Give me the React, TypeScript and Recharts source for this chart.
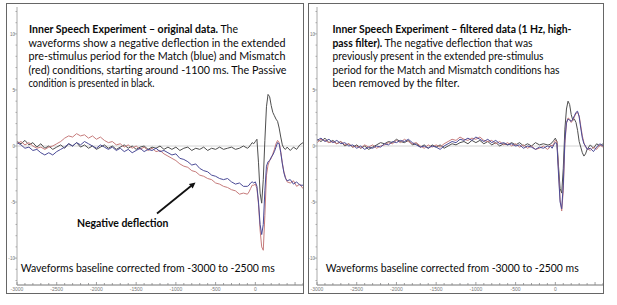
import { LineChart, Line, XAxis, YAxis, ReferenceLine } from "recharts";

// sample times (ms): 50 ms steps before stimulus, finer around the response
const times = [
  -3000, -2950, -2900, -2850, -2800, -2750, -2700, -2650, -2600, -2550,
  -2500, -2450, -2400, -2350, -2300, -2250, -2200, -2150, -2100, -2050,
  -2000, -1950, -1900, -1850, -1800, -1750, -1700, -1650, -1600, -1550,
  -1500, -1450, -1400, -1350, -1300, -1250, -1200, -1150, -1100, -1050,
  -1000, -950, -900, -850, -800, -750, -700, -650, -600, -550,
  -500, -450, -400, -350, -300, -250, -200, -150, -100,
  -80, -60, -40, -20, 0, 20, 40, 60, 80, 100,
  120, 140, 160, 180, 200, 220, 240, 260, 280, 300,
  320, 340, 360, 380, 400, 440, 480, 520, 560, 600,
];

// original data (µV)
const origMatch = [
  0.3, 0.1, -0.2, -0.1, -0.4, -0.3, -0.6, -0.8, -0.6, -0.8,
  -0.5, -0.3, -0.1, 0.2, 0.0, 0.3, 0.1, 0.4, 0.2, 0.0,
  -0.2, 0.1, -0.1, -0.3, -0.1, -0.4, -0.2, -0.5, -0.3, -0.6,
  -0.4, -0.2, -0.5, -0.3, -0.4, -0.2, -0.5, -0.4, -0.6, -0.8,
  -0.7, -1.1, -1.2, -1.4, -1.7, -1.6, -2.0, -2.2, -2.3, -2.6,
  -2.7, -2.9, -3.0, -2.9, -3.2, -3.4, -3.3, -3.6, -3.6,
  -3.5, -3.3, -3.2, -3.3, -3.2, -3.6, -5.0, -7.0, -7.9, -7.0,
  -4.0, -1.8, -1.4, -1.3, -1.0, -0.8, -0.5, -0.1, 0.3, 0.2,
  -0.6, -1.6, -2.4, -2.9, -3.1, -3.0, -3.4, -3.2, -3.5, -3.5,
];
const origMismatch = [
  0.2, 0.4, 0.1, 0.3, 0.0, -0.2, -0.1, -0.3, -0.1, 0.0,
  0.2, 0.4, 0.7, 0.9, 0.8, 1.1, 0.9, 1.0, 0.7, 0.9,
  0.6, 0.8, 0.5, 0.3, 0.4, 0.1, 0.2, -0.1, 0.1, -0.2,
  0.0, -0.3, -0.1, -0.4, -0.2, -0.5, -0.4, -0.7, -0.9, -1.1,
  -1.3, -1.6, -1.8, -1.9, -2.2, -2.3, -2.6, -2.7, -2.9, -3.0,
  -3.3, -3.4, -3.6, -3.7, -3.9, -4.0, -4.3, -4.2, -4.3,
  -4.1, -3.8, -3.5, -3.5, -3.4, -3.8, -5.2, -7.5, -9.0, -9.3,
  -6.2, -2.6, -1.7, -1.3, -1.1, -0.7, -0.3, 0.2, 0.5, 0.3,
  -0.5, -1.5, -2.3, -2.8, -3.2, -3.3, -3.1, -3.6, -3.4, -3.8,
];
const origPassive = [
  0.4, 0.2, 0.5, 0.1, 0.3, -0.1, 0.2, -0.2, 0.0, -0.3,
  -0.1, 0.1, -0.2, 0.2, 0.0, 0.3, -0.1, 0.1, -0.2, 0.0,
  -0.3, -0.1, 0.1, -0.2, 0.0, -0.3, -0.1, 0.1, -0.2, 0.0,
  -0.3, -0.1, 0.0, -0.3, -0.1, -0.2, 0.0, -0.3, -0.1, -0.3,
  -0.1, -0.4, -0.2, -0.1, -0.4, -0.2, -0.3, -0.1, -0.4, -0.2,
  -0.3, -0.1, -0.3, -0.2, -0.1, -0.3, -0.2, 0.0, -0.2,
  -0.1, 0.1, 0.3, 0.2, 0.4, 0.6, -1.5, -4.2, -5.1, -3.0,
  0.5, 3.5, 4.6, 4.4, 3.6, 3.0, 2.7, 2.4, 2.2, 1.6,
  0.8, 0.1, -0.2, -0.3, -0.1, -0.4, -0.1, -0.3, 0.1, 0.3,
];

// filtered data (1 Hz high-pass)
const filtMatch = [
  0.5, 0.7, 0.4, 0.6, 0.3, 0.5, 0.2, 0.3, 0.0, 0.1,
  -0.2, 0.0, -0.3, -0.1, -0.2, 0.0, -0.1, 0.2, 0.1, 0.4,
  0.3, 0.5, 0.4, 0.6, 0.3, 0.1, -0.1, 0.0, -0.2, 0.0,
  -0.1, -0.3, 0.0, 0.2, 0.4, 0.3, 0.6, 0.5, 0.7, 0.5,
  0.8, 0.6, 0.4, 0.6, 0.3, 0.5, 0.2, 0.3, 0.1, 0.2,
  0.0, 0.1, -0.2, 0.0, -0.1, -0.3, -0.1, -0.2, 0.0,
  -0.1, 0.0, -0.2, 0.1, 0.3, 0.2, -2.5, -5.0, -5.6, -3.5,
  0.5, 2.1, 2.4, 2.3, 2.2, 2.4, 2.7, 3.0, 3.1, 2.6,
  1.6, 0.7, 0.2, 0.0, -0.3, -0.2, -0.5, -0.1, 0.2, 0.0,
];
const filtMismatch = [
  0.3, 0.6, 0.5, 0.3, 0.4, 0.2, 0.4, 0.1, 0.2, -0.1,
  0.0, -0.2, 0.1, -0.1, 0.1, -0.2, 0.0, 0.1, 0.3, 0.2,
  0.5, 0.3, 0.6, 0.4, 0.2, 0.3, 0.0, -0.2, 0.1, -0.1,
  0.1, -0.1, 0.2, 0.4, 0.6, 0.5, 0.8, 0.6, 0.5, 0.7,
  0.6, 0.8, 0.5, 0.4, 0.5, 0.2, 0.4, 0.1, 0.3, 0.0,
  0.2, -0.1, 0.1, -0.2, 0.0, -0.3, -0.2, 0.0, -0.3,
  -0.2, 0.1, 0.0, 0.2, 0.5, 0.4, -2.2, -4.8, -5.8, -4.0,
  0.2, 2.0, 2.5, 2.4, 2.1, 2.3, 2.6, 2.9, 3.0, 2.7,
  1.8, 0.9, 0.3, -0.1, -0.2, -0.4, -0.1, -0.3, 0.1, -0.1,
];
const filtPassive = [
  0.6, 0.4, 0.7, 0.3, 0.5, 0.2, 0.4, 0.0, 0.2, -0.1,
  0.1, -0.2, 0.0, -0.3, -0.1, 0.1, 0.3, 0.2, 0.4, 0.3,
  0.6, 0.4, 0.3, 0.5, 0.1, 0.2, -0.1, 0.1, -0.2, 0.1,
  -0.1, 0.1, -0.2, 0.0, 0.2, 0.1, 0.3, 0.4, 0.2, 0.5,
  0.3, 0.5, 0.2, 0.4, 0.1, 0.3, 0.0, 0.2, 0.1, 0.3,
  0.1, 0.3, 0.0, 0.2, 0.0, 0.3, 0.1, 0.2, 0.1,
  0.1, 0.2, 0.3, 0.5, 0.7, 0.4, -1.8, -3.8, -4.2, -2.0,
  1.5, 3.3, 4.0, 3.7, 2.8, 2.3, 2.4, 2.1, 1.4, 0.4,
  -0.1, -0.6, -0.9, -0.7, -0.3, 0.1, -0.2, 0.2, 0.0, 0.2,
];

const xTicks = [
  -3000, -2900, -2800, -2700, -2600, -2500, -2400, -2300, -2200, -2100,
  -2000, -1900, -1800, -1700, -1600, -1500, -1400, -1300, -1200, -1100,
  -1000, -900, -800, -700, -600, -500, -400, -300, -200, -100,
  0, 100, 200, 300, 400, 500, 600,
];
const xLabels = [-3000, -2500, -2000, -1500, -1000, -500, 0];
const yTicks = [
  -12, -11, -10, -9, -8, -7, -6, -5, -4, -3, -2, -1, 0,
  1, 2, 3, 4, 5, 6, 7, 8, 9, 10, 11, 12,
];
const yLabels = [-10, -5, 0, 5, 10];

const BLUE = "#4b4b97";
const RED = "#c67b7b";
const BLACK = "#4e4e4e";
const FONT = "Lato, 'Open Sans', sans-serif";

const origRows = times.map((t, i) => ({ t, match: origMatch[i], mismatch: origMismatch[i], passive: origPassive[i] }));
const filtRows = times.map((t, i) => ({ t, match: filtMatch[i], mismatch: filtMismatch[i], passive: filtPassive[i] }));

function XTick({ x, y, payload }: any) {
  const v = payload.value;
  const major = v % 500 === 0;
  return (
    <g>
      <line x1={x} x2={x} y1={y} y2={y - (major ? 3 : 2)} stroke="#888" strokeWidth={0.8} />
      {xLabels.includes(v) && (
        <text x={x} y={y + 6} textAnchor="middle" fontSize={5} fill="#777" fontFamily="Liberation Sans, sans-serif">{v}</text>
      )}
    </g>
  );
}

function YTick({ x, y, payload }: any) {
  const v = payload.value;
  const major = v % 5 === 0;
  return (
    <g>
      <line x1={x - (major ? 3 : 1.5)} x2={x} y1={y} y2={y} stroke="#999" strokeWidth={0.8} />
      {yLabels.includes(v) && (
        <text x={x - 2} y={y + 1.7} textAnchor="end" fontSize={4.6} fill="#777" fontFamily="Liberation Sans, sans-serif">{v}</text>
      )}
    </g>
  );
}

function Panel({ left, rows, axisWidth, chartWidth }: { left: number; rows: any[]; axisWidth: number; chartWidth: number }) {
  return (
    <div style={{ position: "absolute", left, top: 3, width: chartWidth, height: 289, border: "1px solid #666" }}>
      <LineChart width={chartWidth} height={289} data={rows} margin={{ top: 3, right: 0, bottom: 0, left: 0 }}>
        <XAxis
          dataKey="t" type="number" domain={[-3000, 600]} ticks={xTicks} interval={0}
          height={8} tickSize={0} tickMargin={0} tickLine={false} tick={<XTick />}
          axisLine={{ stroke: "#777", strokeWidth: 1 }} allowDataOverflow
        />
        <YAxis
          type="number" domain={[-12.4, 12.4]} ticks={yTicks} interval={0}
          width={axisWidth} tickSize={0} tickMargin={0} tickLine={false} tick={<YTick />}
          axisLine={{ stroke: "#aaa", strokeWidth: 1 }} allowDataOverflow
        />
        <ReferenceLine y={0} stroke="#d4d4d4" strokeWidth={1} />
        <Line dataKey="passive" stroke={BLACK} strokeWidth={1} dot={false} isAnimationActive={false} />
        <Line dataKey="mismatch" stroke={RED} strokeWidth={1} dot={false} isAnimationActive={false} />
        <Line dataKey="match" stroke={BLUE} strokeWidth={1} dot={false} isAnimationActive={false} />
      </LineChart>
    </div>
  );
}

function Notes() {
  const body = { fontFamily: FONT, fontSize: 11.4, fill: "#0a0a0a", lengthAdjust: "spacingAndGlyphs" as const };
  return (
    <svg width={617} height={305} style={{ position: "absolute", left: 0, top: 0, pointerEvents: "none" }}>
      {/* left panel caption */}
      <text x={29} y={33} textLength={209} {...body}>
        <tspan fontWeight={700}>Inner Speech Experiment – original data.</tspan>
        <tspan> The</tspan>
      </text>
      <text x={28.5} y={46.5} textLength={257} {...body}>waveforms show a negative deflection in the extended</text>
      <text x={28.5} y={60} textLength={257} {...body}>pre-stimulus period for the Match (blue) and Mismatch</text>
      <text x={28.5} y={73.5} textLength={258} {...body}>(red) conditions, starting around -1100 ms. The Passive</text>
      <text x={28.5} y={87} textLength={126} {...body}>condition is presented in black.</text>

      {/* right panel caption */}
      <text x={332.5} y={33} textLength={239} {...body} fontWeight={700}>Inner Speech Experiment – filtered data (1 Hz, high-</text>
      <text x={332.5} y={46.5} textLength={200} {...body}>
        <tspan fontWeight={700}>pass filter).</tspan>
        <tspan> The negative deflection that was</tspan>
      </text>
      <text x={332.5} y={60} textLength={211} {...body}>previously present in the extended pre-stimulus</text>
      <text x={332.5} y={73.5} textLength={227} {...body}>period for the Match and Mismatch conditions has</text>
      <text x={332.5} y={87} textLength={127} {...body}>been removed by the filter.</text>

      {/* annotation */}
      <line x1={157} y1={213.5} x2={191} y2={186} stroke="#111" strokeWidth={1.8} />
      <polygon points="195.5,182.5 192.7,188.6 188.9,184.0" fill="#111" />
      <text x={77} y={227.3} textLength={91.5} {...body} fontWeight={700}>Negative deflection</text>

      <text x={20.7} y={272.3} textLength={254} {...body}>Waveforms baseline corrected from -3000 to -2500 ms</text>
      <text x={325.7} y={272.3} textLength={253} {...body}>Waveforms baseline corrected from -3000 to -2500 ms</text>
    </svg>
  );
}

export default function App() {
  return (
    <div style={{ position: "absolute", left: 0, top: 0, width: 617, height: 305, background: "#fff", overflow: "hidden" }}>
      <Panel left={6} rows={origRows} axisWidth={10} chartWidth={296} />
      <Panel left={308} rows={filtRows} axisWidth={8} chartWidth={294} />
      <Notes />
    </div>
  );
}
